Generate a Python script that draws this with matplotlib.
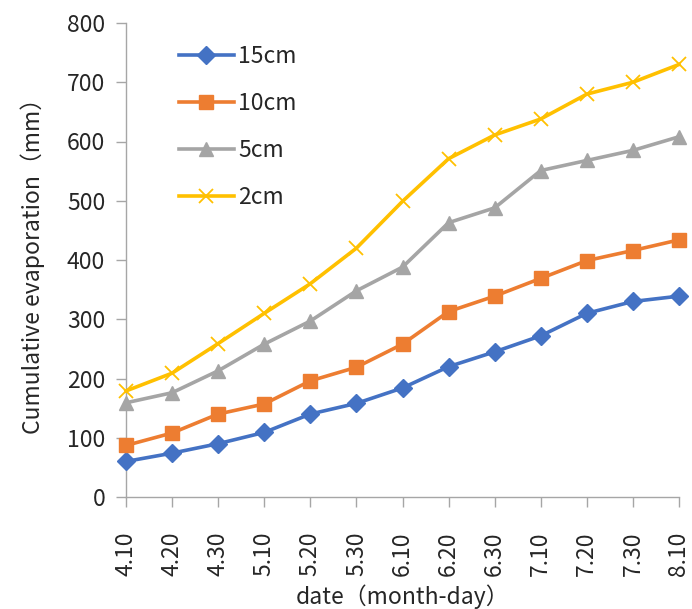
import matplotlib
matplotlib.use("Agg")
import matplotlib.pyplot as plt

plt.rcParams['font.family'] = ['Noto Sans CJK SC', 'DejaVu Sans']

dates = ["4.10", "4.20", "4.30", "5.10", "5.20", "5.30", "6.10",
         "6.20", "6.30", "7.10", "7.20", "7.30", "8.10"]
depth_15cm = [60, 74, 90, 109, 140, 158, 184, 220, 245, 272, 310, 330, 339]
depth_10cm = [87, 108, 140, 157, 196, 219, 258, 313, 339, 369, 399, 416, 434]
depth_5cm = [159, 176, 213, 258, 297, 348, 388, 463, 488, 551, 568, 585, 608]
depth_2cm = [179, 209, 259, 310, 360, 420, 499, 571, 611, 638, 680, 700, 730]

series = [
    ("15cm", depth_15cm, "#4472C4", "D", 9, None),
    ("10cm", depth_10cm, "#ED7D31", "s", 10, None),
    ("5cm", depth_5cm, "#A5A5A5", "^", 10, None),
    ("2cm", depth_2cm, "#FFC000", "x", 10, 1.3),
]

W, H = 692, 609
fig = plt.figure(figsize=(W / 100, H / 100), dpi=100)
left, right, top, bottom = 126, 679, 23, 497
ax = fig.add_axes([left / W, 1 - bottom / H, (right - left) / W, (bottom - top) / H])

FS = 16.5
TXT = "#262626"

x = list(range(len(dates)))
for name, vals, color, marker, ms, mew in series:
    kw = dict(markeredgewidth=mew) if mew else {}
    ax.plot(x, vals, color=color, lw=2.6, marker=marker, markersize=ms,
            markerfacecolor=color, markeredgecolor=color, label=name,
            clip_on=False, zorder=3, **kw)

ax.set_xlim(0, len(dates) - 1)
ax.set_ylim(0, 800)
ax.set_yticks(range(0, 801, 100))
ax.set_xticks(x)
ax.set_xticklabels(dates, rotation=90)

for side in ("top", "right"):
    ax.spines[side].set_visible(False)
for side in ("left", "bottom"):
    ax.spines[side].set_color("#A6A6A6")
    ax.spines[side].set_linewidth(1.0)

ax.tick_params(axis="both", colors="#A6A6A6", length=7, width=1,
               labelcolor=TXT, labelsize=FS)
ax.tick_params(axis="y", pad=8)
ax.tick_params(axis="x", pad=18)

ax.set_ylabel("Cumulative evaporation（mm）", fontsize=FS, color=TXT,
              labelpad=16)
ax.set_xlabel("date（month-day）", fontsize=FS, color=TXT, labelpad=6)

ax.legend(loc="upper left", bbox_to_anchor=(0.058, 0.998), frameon=False,
          fontsize=FS, handlelength=2.4, handletextpad=0.2,
          labelspacing=1.05, labelcolor=TXT)

fig.savefig("out.png", dpi=100)
